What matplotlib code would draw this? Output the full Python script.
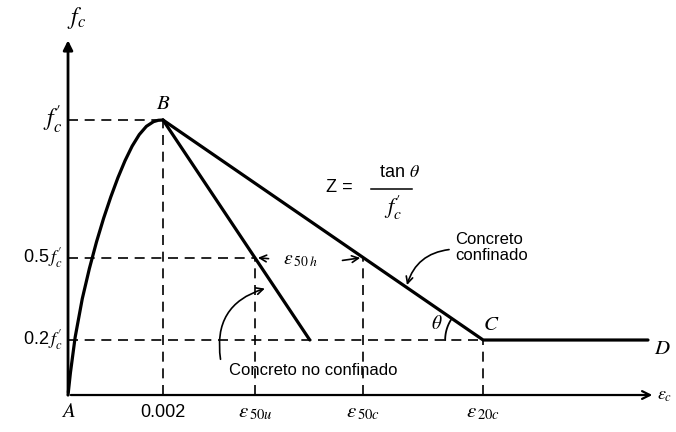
import numpy as np
import matplotlib
matplotlib.use('Agg')
import matplotlib.pyplot as plt
from matplotlib.patches import FancyArrowPatch

plt.rcParams['font.family'] = ['Liberation Sans', 'DejaVu Sans']
plt.rcParams['mathtext.fontset'] = 'stix'

# rama ascendente A-B (fc/f'c contra deformacion)
eps_asc = [0.0, 0.00005, 0.00015, 0.0003, 0.00045, 0.0006, 0.00075, 0.0009,
           0.00105, 0.0012, 0.00135, 0.0015, 0.00165, 0.0018, 0.0019, 0.0020]
fc_asc = [0.0, 0.08, 0.21, 0.35, 0.46, 0.557, 0.643, 0.72,
          0.79, 0.852, 0.905, 0.947, 0.977, 0.994, 0.999, 1.0]

# deformaciones caracteristicas
eps0 = 0.002
eps50u = 0.00394
eps20u = 0.00509
eps50c = 0.00621
eps20c = 0.00874
eps_D = 0.01221
eps_max = 0.01236
fc_max = 1.30

# ramas descendentes
eps_nc = [eps0, eps20u]      # concreto no confinado
fc_nc = [1.0, 0.2]
eps_c = [eps0, eps20c, eps_D]   # concreto confinado B-C-D
fc_c = [1.0, 0.2, 0.2]

fig = plt.figure(figsize=(6.76, 4.32), dpi=100)
ax = fig.add_axes([0, 0, 1, 1])
ax.set_xlim(-0.001432, 0.0128)
ax.set_ylim(-0.1345, 1.4364)
ax.axis('off')

k = 'black'
# ejes con flecha
ax.annotate('', xy=(0, fc_max), xytext=(0, 0),
            arrowprops=dict(arrowstyle='-|>', color=k, lw=2, mutation_scale=14))
ax.annotate('', xy=(eps_max, 0), xytext=(0, 0),
            arrowprops=dict(arrowstyle='->', color=k, lw=1.6, mutation_scale=14))

# curvas
ax.plot(eps_asc, fc_asc, color=k, lw=2.3, solid_capstyle='round', solid_joinstyle='round')
ax.plot(eps_nc, fc_nc, color=k, lw=2.3, solid_capstyle='round')
ax.plot(eps_c, fc_c, color=k, lw=2.3, solid_capstyle='round')

# lineas auxiliares
dash = dict(color=k, lw=1.2, ls=(0, (6, 4)))
ax.plot([0, eps0], [1.0, 1.0], **dash)
ax.plot([0, eps50u], [0.5, 0.5], **dash)
ax.plot([0, eps20c], [0.2, 0.2], **dash)
ax.plot([eps0, eps0], [0, 1.0], **dash)
ax.plot([eps50u, eps50u], [0, 0.5], **dash)
ax.plot([eps50c, eps50c], [0, 0.5], **dash)
ax.plot([eps20c, eps20c], [0, 0.2], **dash)

# etiquetas del eje vertical
fs = 12
ax.text(0.00017, 1.372, r'$f_c$', fontsize=17, ha='center', va='center')
ax.text(-0.00012, 1.0, r"$f_c'$", fontsize=17, ha='right', va='center')
ax.text(-0.00012, 0.5, r"0.5$\,f_c'$", fontsize=fs + 1, ha='right', va='center')
ax.text(-0.00012, 0.2, r"0.2$\,f_c'$", fontsize=fs + 1, ha='right', va='center')

# etiquetas del eje horizontal
ax.text(0.0, -0.06, r'$A$', fontsize=15, ha='center', va='center')
ax.text(eps0, -0.063, '0.002', fontsize=fs + 1, ha='center', va='center')
ax.text(eps50u, -0.065, r'$\epsilon_{\,50u}$', fontsize=15, ha='center', va='center')
ax.text(eps50c, -0.065, r'$\epsilon_{\,50c}$', fontsize=15, ha='center', va='center')
ax.text(eps20c, -0.065, r'$\epsilon_{\,20c}$', fontsize=15, ha='center', va='center')
ax.text(eps_max + 0.00003, 0.0, r'$\epsilon_c$', fontsize=13, ha='left', va='center')

# puntos
ax.text(eps0, 1.06, r'$B$', fontsize=15, ha='center', va='center')
ax.text(eps20c + 0.00016, 0.255, r'$C$', fontsize=15, ha='center', va='center')
ax.text(eps_D + 0.0003, 0.17, r'$D$', fontsize=15, ha='center', va='center')
ax.text(eps20c - 0.00098, 0.26, r'$\theta$', fontsize=14, ha='center', va='center')

# arco del angulo theta en C (radio ~38 px)
ang = np.radians(np.linspace(146, 180, 20))
ax.plot(eps20c + 0.0008 * np.cos(ang), 0.2 + 0.138 * np.sin(ang), color=k, lw=1.3)

# Z = tan(theta) / f'c
ax.text(0.00572, 0.755, 'Z =', fontsize=fs + 1, ha='center', va='center')
ax.text(0.00698, 0.808, r'tan $\theta$', fontsize=fs + 1, ha='center', va='center')
ax.plot([0.00638, 0.00725], [0.75, 0.75], color=k, lw=1.1)
ax.text(0.00685, 0.68, r"$f_c'$", fontsize=16, ha='center', va='center')

# epsilon 50h entre las dos ramas
ax.text(0.00490, 0.49, r'$\epsilon_{\,50\;h}$', fontsize=14, ha='center', va='center')
ax.annotate('', xy=(eps50u, 0.5), xytext=(0.00428, 0.495),
            arrowprops=dict(arrowstyle='->', color=k, lw=1.2, mutation_scale=12))
ax.annotate('', xy=(eps50c, 0.5), xytext=(0.00572, 0.488),
            arrowprops=dict(arrowstyle='->', color=k, lw=1.2, mutation_scale=12))

# concreto confinado
ax.text(0.00815, 0.535, 'Concreto\nconfinado', fontsize=fs, ha='left', va='center',
        linespacing=1.1)
ax.add_patch(FancyArrowPatch((0.00808, 0.53), (0.00712, 0.39),
                             connectionstyle='arc3,rad=0.35', arrowstyle='->',
                             mutation_scale=12, color=k, lw=1.2))

# concreto no confinado
ax.text(0.00339, 0.09, 'Concreto no confinado', fontsize=fs, ha='left', va='center')
ax.add_patch(FancyArrowPatch((0.00322, 0.12), (0.00420, 0.39),
                             connectionstyle='arc3,rad=-0.45', arrowstyle='->',
                             mutation_scale=12, color=k, lw=1.2))

fig.savefig('out.png', dpi=100)
